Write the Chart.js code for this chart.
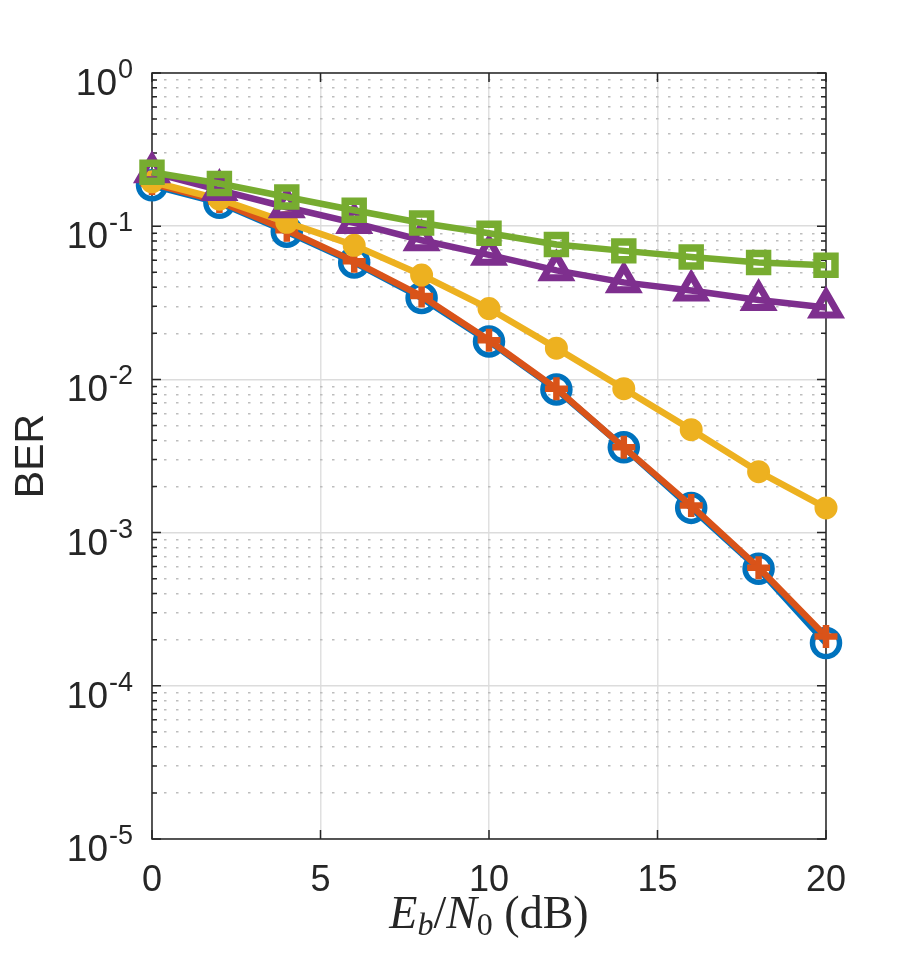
<!DOCTYPE html>
<html>
<head>
<meta charset="utf-8">
<script src="https://cdn.jsdelivr.net/npm/chart.js@4/dist/chart.umd.min.js"></script>
<style>
  html, body { margin: 0; padding: 0; background: #fff; }
  canvas { display: block; }
</style>
</head>
<body>
<canvas id="berChart" width="913" height="953"></canvas>
<script>
// Eb/N0 points (dB)
const ebn0 = [0, 2, 4, 6, 8, 10, 12, 14, 16, 18, 20];

// BER curves
const berCircle   = [0.185, 0.142, 0.092, 0.058, 0.034, 0.0177, 0.0086, 0.0036, 0.00145, 0.00058, 0.00019];
const berPlus     = [0.19, 0.145, 0.094, 0.059, 0.035, 0.018, 0.0087, 0.0036, 0.0015, 0.00059, 0.00021];
const berDot      = [0.195, 0.15, 0.106, 0.075, 0.048, 0.029, 0.016, 0.0087, 0.0047, 0.0025, 0.00145];
const berTriangle = [0.225, 0.172, 0.133, 0.105, 0.081, 0.065, 0.0515, 0.043, 0.038, 0.033, 0.0295];
const berSquare   = [0.225, 0.19, 0.155, 0.127, 0.105, 0.09, 0.076, 0.069, 0.063, 0.058, 0.0556];

// axis ticks
const xTicks = [0, 5, 10, 15, 20];
const yDecades = [0, -1, -2, -3, -4, -5];

const TEXT = '#262626';
const SANS = '"Liberation Sans", Arial, sans-serif';
const SERIF = '"Liberation Serif", "DejaVu Serif", serif';

function isDecade(v) {
  const l = Math.log10(v);
  return Math.abs(l - Math.round(l)) < 1e-6;
}

function pts(arr) {
  return ebn0.map((x, i) => ({ x: x, y: arr[i] }));
}

function series(arr, color, style, extra) {
  return Object.assign({
    data: pts(arr),
    borderColor: color,
    borderWidth: 6.5,
    pointStyle: style,
    pointBorderColor: color,
    pointBackgroundColor: 'rgba(0,0,0,0)',
    tension: 0,
    clip: false
  }, extra);
}

// axes box, inward ticks and the labels Chart.js can't format (superscripts, subscripts)
const matlabAxes = {
  id: 'matlabAxes',
  beforeDatasetsDraw(chart) {
    const { ctx, chartArea: a, scales: { x, y } } = chart;
    ctx.save();
    ctx.strokeStyle = TEXT;
    ctx.lineWidth = 1.5;
    ctx.beginPath();
    y.ticks.forEach(t => {
      const py = y.getPixelForValue(t.value);
      const len = isDecade(t.value) ? 9 : 5;
      ctx.moveTo(a.left, py); ctx.lineTo(a.left + len, py);
      ctx.moveTo(a.right, py); ctx.lineTo(a.right - len, py);
    });
    x.ticks.forEach(t => {
      const px = x.getPixelForValue(t.value);
      ctx.moveTo(px, a.bottom); ctx.lineTo(px, a.bottom - 9);
      ctx.moveTo(px, a.top); ctx.lineTo(px, a.top + 9);
    });
    ctx.stroke();
    ctx.strokeRect(a.left, a.top, a.right - a.left, a.bottom - a.top);
    ctx.restore();
  },
  afterDraw(chart) {
    const { ctx, chartArea: a, scales: { y } } = chart;
    ctx.save();
    ctx.fillStyle = TEXT;
    ctx.textBaseline = 'alphabetic';

    // y tick labels 10^n
    yDecades.forEach(e => {
      const py = y.getPixelForValue(Math.pow(10, e));
      const expStr = String(e);
      ctx.font = '27px ' + SANS;
      const ew = ctx.measureText(expStr).width;
      ctx.font = '37px ' + SANS;
      const bw = ctx.measureText('10').width;
      const right = a.left - 19;
      ctx.textAlign = 'left';
      ctx.fillText('10', right - ew - bw - 1, py + 22);
      ctx.font = '27px ' + SANS;
      ctx.fillText(expStr, right - ew, py + 5);
    });

    // y title
    ctx.save();
    ctx.translate(43, (a.top + a.bottom) / 2);
    ctx.rotate(-Math.PI / 2);
    ctx.textAlign = 'center';
    ctx.font = '41px ' + SANS;
    ctx.fillText('BER', 0, 0);
    ctx.restore();

    // x title: E_b/N_0 (dB)
    const parts = [
      { t: 'E', f: 'italic 46px ' + SERIF, dy: 0 },
      { t: 'b', f: 'italic 32px ' + SERIF, dy: 7 },
      { t: '/', f: '46px ' + SERIF, dy: 0 },
      { t: 'N', f: 'italic 46px ' + SERIF, dy: 0 },
      { t: '0', f: '32px ' + SERIF, dy: 7 },
      { t: ' (dB)', f: '46px ' + SERIF, dy: 0 }
    ];
    let total = 0;
    parts.forEach(p => { ctx.font = p.f; p.w = ctx.measureText(p.t).width; total += p.w; });
    let cx = (a.left + a.right) / 2 - total / 2;
    ctx.textAlign = 'left';
    parts.forEach(p => {
      ctx.font = p.f;
      ctx.fillText(p.t, cx, 928 + p.dy);
      cx += p.w;
    });
    ctx.restore();
  }
};

new Chart(document.getElementById('berChart').getContext('2d'), {
  type: 'line',
  data: {
    datasets: [
      series(berCircle, '#0072BD', 'circle', { pointRadius: 13.5, pointBorderWidth: 5.5, order: 5 }),
      series(berPlus, '#D95319', 'cross', { pointRadius: 11.5, pointBorderWidth: 6.5, order: 4 }),
      series(berDot, '#EDB120', 'circle', { pointRadius: 10.5, pointBorderWidth: 2, pointBackgroundColor: '#EDB120', order: 3 }),
      series(berTriangle, '#7E2F8E', 'triangle', { pointRadius: 15, pointBorderWidth: 7, order: 2 }),
      series(berSquare, '#77AC30', 'rect', { pointRadius: 12.7, pointBorderWidth: 7.5, order: 1 })
    ]
  },
  options: {
    responsive: false,
    animation: false,
    devicePixelRatio: 1,
    layout: { padding: { top: 73, right: 87, left: 0, bottom: 0 } },
    plugins: {
      legend: { display: false },
      tooltip: { enabled: false }
    },
    scales: {
      x: {
        type: 'linear',
        min: 0,
        max: 20,
        afterBuildTicks: s => { s.ticks = xTicks.map(v => ({ value: v })); },
        afterFit: s => { s.height = 114; },
        ticks: {
          color: TEXT,
          padding: 20,
          font: { family: SANS, size: 36 }
        },
        grid: { color: '#e0e0e0', lineWidth: 1.5, drawTicks: false },
        border: { display: false }
      },
      y: {
        type: 'logarithmic',
        min: 1e-5,
        max: 1,
        afterBuildTicks: s => {
          const t = [];
          yDecades.slice().reverse().forEach(e => {
            for (let m = 1; m <= 9; m++) {
              if (e === 0 && m > 1) break;
              t.push({ value: m * Math.pow(10, e) });
            }
          });
          s.ticks = t;
        },
        afterFit: s => { s.width = 152; },
        ticks: { display: false },
        grid: {
          drawTicks: false,
          color: c => (c.tick && isDecade(c.tick.value)) ? '#dcdcdc' : '#bdbdbd',
          lineWidth: c => (c.tick && isDecade(c.tick.value)) ? 1.5 : 1.4
        },
        border: {
          display: false,
          dash: c => (c.tick && !isDecade(c.tick.value)) ? [2.5, 9.5] : []
        }
      }
    }
  },
  plugins: [matlabAxes]
});
</script>
</body>
</html>
